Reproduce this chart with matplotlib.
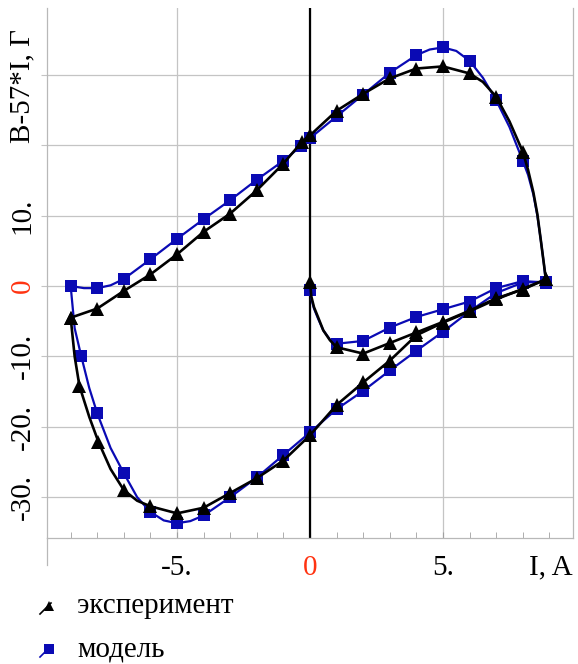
import matplotlib.pyplot as plt
from matplotlib.lines import Line2D

# I, A  vs  B-57*I, G  -- model (squares) and experiment (triangles)
# each loop is split into the initial curve, the descending and the ascending branch

mod_init_i = [0, 0.05, 0.15, 0.3, 0.5, 0.75, 1, 2, 3, 4, 5, 6, 7, 8, 8.87]
mod_init_b = [-0.6, -1.8, -3.2, -4.6, -6.3, -7.6, -8.2, -7.8, -5.9, -4.4, -3.3, -2.2, -0.3, 0.7, 0.5]
mod_init_mk = [0, 6, 7, 8, 9, 10, 11, 12, 13, 14]

mod_down_i = [8.87, 8.8, 8.68, 8.55, 8.4, 8.2, 8, 7.5, 7, 6.5, 6, 5.5, 5, 4.5, 4, 3, 2, 1, 0,
              -0.33, -1, -2, -3, -4, -5, -6, -7, -7.5, -8, -8.5, -9]
mod_down_b = [0.5, 3.0, 6.5, 10.0, 13.0, 15.8, 17.8, 22.6, 26.4, 29.6, 32.0, 33.4, 33.9, 33.6, 32.8,
              30.3, 27.2, 24.1, 21.0, 19.9, 17.8, 15.1, 12.2, 9.5, 6.7, 3.8, 1.0, 0.1, -0.3, -0.3, 0.0]
mod_down_mk = [6, 8, 10, 12, 14, 15, 16, 17, 18, 19, 20, 21, 22, 23, 24, 25, 26, 28, 30]

mod_up_i = [-9, -8.85, -8.6, -8.3, -8, -7.5, -7, -6.5, -6, -5.5, -5, -4.5, -4, -3, -2, -1, 0,
            1, 2, 3, 4, 5, 6, 7, 8, 8.87]
mod_up_b = [0.0, -6.0, -10.0, -14.5, -18.1, -23.0, -26.6, -30.0, -32.1, -33.3, -33.7, -33.4, -32.6,
            -30.0, -27.2, -24.0, -20.8, -17.5, -14.9, -12.0, -9.2, -6.5, -3.6, -1.0, 0.5, 0.6]
mod_up_mk = [0, 2, 4, 6, 8, 10, 12, 13, 14, 15, 16, 17, 18, 19, 20, 21, 22, 23, 24, 25]

exp_init_i = [0, 0.05, 0.15, 0.3, 0.5, 0.75, 1, 2, 3, 4, 5, 6, 7, 8, 8.87]
exp_init_b = [0.6, -1.5, -3.0, -4.4, -6.3, -7.7, -8.7, -9.6, -8.1, -6.6, -5.1, -3.5, -1.75, -0.5, 0.95]
exp_init_mk = [0, 6, 7, 8, 9, 10, 11, 12, 13, 14]

exp_down_i = [8.87, 8.8, 8.68, 8.55, 8.4, 8.2, 8, 7.5, 7, 6.5, 6, 5, 4, 3, 2, 1, 0, -0.3,
              -1, -2, -3, -4, -5, -6, -7, -8, -9]
exp_down_b = [0.95, 3.0, 6.5, 10.2, 13.3, 16.5, 19.1, 23.4, 26.9, 29.0, 30.2, 31.2, 30.9, 29.5,
              27.3, 24.9, 21.4, 20.5, 17.4, 13.6, 10.3, 7.7, 4.5, 1.65, -0.7, -3.2, -4.5]
exp_down_mk = [6, 8, 10, 11, 12, 13, 14, 15, 16, 17, 18, 19, 20, 21, 22, 23, 24, 25, 26]

exp_up_i = [-9, -8.85, -8.67, -8.3, -7.96, -7.5, -7, -6.5, -6, -5, -4, -3, -2, -1, 0,
            1, 2, 3, 4, 5, 6, 7, 8, 8.87]
exp_up_b = [-4.5, -10.0, -14.2, -18.6, -22.1, -26.0, -29.0, -30.5, -31.3, -32.3, -31.5, -29.4,
            -27.3, -24.8, -21.2, -16.9, -13.7, -10.6, -7.0, -5.2, -3.6, -1.9, -0.4, 0.95]
exp_up_mk = [0, 2, 4, 6, 8, 9, 10, 11, 12, 13, 14, 15, 16, 17, 18, 19, 20, 21, 22, 23]

x_ticks = [-5, 0, 5]
x_labels = ["-5.", "0", "5."]
y_ticks = [-30, -20, -10, 0, 10, 20, 30]
y_labels = ["-30.", "-20.", "-10.", "0", "10.", "", ""]

BLUE = "#0a0ab4"
GRID = "#c4c4c4"
RED = "#ff3311"

plt.rcParams["font.family"] = ["Liberation Serif", "DejaVu Serif"]

fig = plt.figure(figsize=(5.78, 6.64), dpi=100)
ax = fig.add_axes([47 / 578, 126 / 664, 526 / 578, 530 / 664])
ax.set_xlim(-9.89, 9.89)
ax.set_ylim(-35.8, 39.5)

ax.set_xticks(x_ticks)
ax.set_xticklabels(x_labels, fontsize=21)
ax.set_xticks(range(-9, 10), minor=True)
ax.set_yticks(y_ticks)
ax.set_yticklabels(y_labels, fontsize=21, rotation=90, va="center")
ax.tick_params(axis="x", which="both", direction="in", length=4, color="#a0a0a0", pad=12)
ax.tick_params(axis="y", direction="out", length=4, color=GRID, pad=4)
for lab in ax.get_xticklabels() + ax.get_yticklabels():
    if lab.get_text() == "0":
        lab.set_color(RED)
ax.grid(True, color=GRID, lw=0.9)
ax.set_axisbelow(True)

ax.spines["top"].set_visible(False)
for side in ("left", "right", "bottom"):
    ax.spines[side].set_color("#b8b8b8")
    ax.spines[side].set_linewidth(0.9)
ax.plot([0, 0], [0, -0.05], color="#b8b8b8", lw=0.9, transform=ax.transAxes, clip_on=False)

ax.axvline(0, color="black", lw=1.6, zorder=1.5)

for xs, ys, marks in [(mod_init_i, mod_init_b, mod_init_mk),
                      (mod_down_i, mod_down_b, mod_down_mk),
                      (mod_up_i, mod_up_b, mod_up_mk)]:
    ax.plot(xs, ys, color=BLUE, lw=1.6, marker="s", markevery=marks, markersize=8.8,
            markeredgewidth=0, zorder=3)
for xs, ys, marks in [(exp_init_i, exp_init_b, exp_init_mk),
                      (exp_down_i, exp_down_b, exp_down_mk),
                      (exp_up_i, exp_up_b, exp_up_mk)]:
    ax.plot(xs, ys, color="black", lw=1.9, marker="^", markevery=marks, markersize=9.5,
            markeredgewidth=0, zorder=4)

ax.annotate("I, A", xy=(9.06, 0), xycoords=("data", "axes fraction"), xytext=(0, -12),
            textcoords="offset points", ha="center", va="top", fontsize=21)
fig.text(22 / 578, 1 - 86 / 664, "B-57*I, Г", rotation=90, ha="center", va="center", fontsize=21)

# legend drawn by hand: diagonal stroke with the marker at its upper end
for y_px, color, marker, text in [(606, "black", "^", "эксперимент"),
                                  (649, BLUE, "s", "модель")]:
    y0 = 1 - (y_px + 8) / 664
    y1 = 1 - (y_px - 3) / 664
    fig.add_artist(Line2D([40 / 578, 51 / 578], [y0, y1], color=color, lw=1.2))
    fig.add_artist(Line2D([49 / 578], [1 - y_px / 664], color=color, marker=marker,
                          markersize=7, markeredgewidth=0, linestyle="none"))
    fig.text(77 / 578, 1 - y_px / 664, text, ha="left", va="center", fontsize=21)

fig.savefig("out.png", dpi=100)
